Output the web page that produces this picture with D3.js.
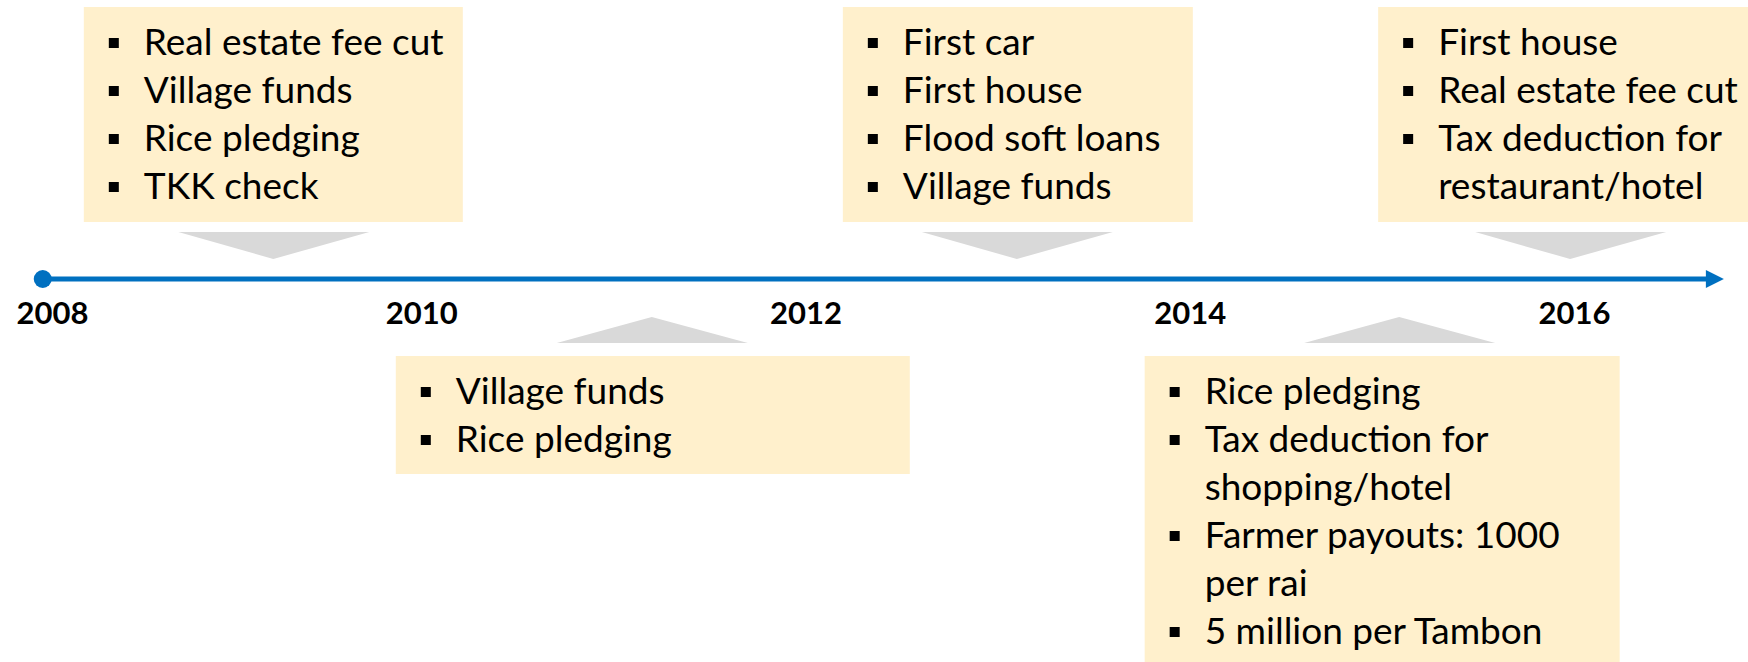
<!DOCTYPE html>
<html>
<head>
<meta charset="utf-8">
<script src="https://cdn.jsdelivr.net/npm/d3@7"></script>
<style>
	html, body { margin: 0; padding: 0; background: #fff; }
	#canvas { width: 1748px; height: 662px; }
</style>
</head>
<body>
<div id="canvas"></div>
<script>
// timeline data
const yearTicks = [2008, 2010, 2012, 2014, 2016];
const eventYears = [2009.23, 2013.1, 2015.98, 2011.2, 2015.09];
const eventSides = ['top', 'top', 'top', 'bottom', 'bottom'];
const eventItems = [
	['Real estate fee cut', 'Village funds', 'Rice pledging', 'TKK check'],
	['First car', 'First house', 'Flood soft loans', 'Village funds'],
	['First house', 'Real estate fee cut', 'Tax deduction for\nrestaurant/hotel'],
	['Village funds', 'Rice pledging'],
	['Rice pledging', 'Tax deduction for\nshopping/hotel', 'Farmer payouts: 1000\nper rai', '5 million per Tambon'],
];

// layout of the callout boxes
const boxWidths = [379, 350, 370, 514, 475];
const boxShifts = [0, 1, -7, 1, -17];

const chart = {
	width: 1748,
	height: 662,
	axisY: 279,
	lineH: 48,
	colors: { axis: '#0070C0', box: '#FFF0CC', arrow: '#D9D9D9', text: '#000' },
};

drawChart();

function drawChart() {
	const { width, height, axisY, lineH, colors } = chart;

	const svg = d3
		.select('#canvas')
		.append('svg')
		.attr('width', width)
		.attr('height', height);

	const xScale = d3.scaleLinear().domain([2008, 2016]).range([37, 1574]);

	// main line with arrow head
	const lineStart = xScale(2008.03);
	const lineEnd = xScale(2016.78);
	svg.append('line')
		.attr('x1', lineStart)
		.attr('x2', lineEnd - 14)
		.attr('y1', axisY)
		.attr('y2', axisY)
		.attr('stroke', colors.axis)
		.attr('stroke-width', 5);

	svg.append('path')
		.attr('d', `M${lineEnd},${axisY} L${lineEnd - 18},${axisY - 9} L${lineEnd - 18},${axisY + 9} Z`)
		.attr('fill', colors.axis);

	svg.append('circle')
		.attr('cx', lineStart)
		.attr('cy', axisY)
		.attr('r', 9)
		.attr('fill', colors.axis);

	const xAxis = svg
		.append('g')
		.attr('transform', `translate(0, ${axisY})`)
		.call(d3.axisBottom(xScale).tickValues(yearTicks).tickFormat(d3.format('d')).tickSize(0));

	xAxis.select('.domain').remove();
	xAxis.selectAll('.tick text')
		.attr('y', 45)
		.attr('dy', 0)
		.attr('dx', (d, i) => (i === 0 ? 15 : 0))
		.attr('fill', colors.text)
		.style('font-family', 'Lato, "Open Sans", sans-serif')
		.style('font-weight', 'bold')
		.style('font-size', '31px');

	// callouts
	const callouts = eventYears.map((year, i) => {
		const lines = [];
		eventItems[i].forEach(item => {
			item.split('\n').forEach((t, j) => lines.push({ text: t, bullet: j === 0 }));
		});
		const top = eventSides[i] === 'top';
		const cx = xScale(year);
		const boxH = lines.length * lineH + 22;
		return {
			cx,
			top,
			lines,
			boxX: cx + boxShifts[i] - boxWidths[i] / 2,
			boxY: top ? 7 : 356,
			boxW: boxWidths[i],
			boxH: top ? 215 : boxH,
		};
	});

	const g = svg.selectAll('.callout').data(callouts).join('g').attr('class', 'callout');

	g.append('path')
		.attr('fill', colors.arrow)
		.attr('d', d =>
			d.top
				? `M${d.cx - 95},232 L${d.cx + 96},232 L${d.cx},259 Z`
				: `M${d.cx - 95},343 L${d.cx + 96},343 L${d.cx},317 Z`
		);

	g.append('rect')
		.attr('x', d => d.boxX)
		.attr('y', d => d.boxY)
		.attr('width', d => d.boxW)
		.attr('height', d => d.boxH)
		.attr('fill', colors.box);

	g.each(function (d) {
		const sel = d3.select(this);
		d.lines.forEach((ln, k) => {
			const base = d.boxY + lineH + k * lineH;
			if (ln.bullet) {
				sel.append('rect')
					.attr('x', d.boxX + 25)
					.attr('y', base - 17)
					.attr('width', 10)
					.attr('height', 10)
					.attr('fill', colors.text);
			}
			sel.append('text')
				.attr('x', d.boxX + 60)
				.attr('y', base)
				.attr('fill', colors.text)
				.style('font-family', 'Lato, "Open Sans", sans-serif')
				.style('font-size', '37px')
				.text(ln.text);
		});
	});
}
</script>
</body>
</html>
